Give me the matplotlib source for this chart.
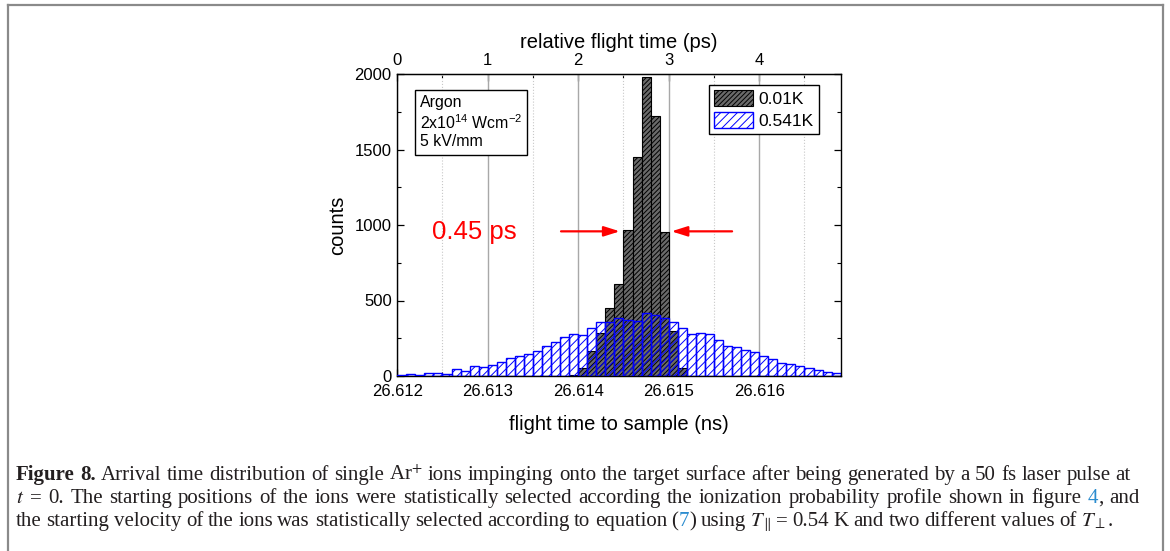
import numpy as np
import matplotlib
matplotlib.use('Agg')
import matplotlib.pyplot as plt
from matplotlib.lines import Line2D
from matplotlib.ticker import MultipleLocator, FormatStrFormatter

plt.rcParams['font.family'] = ['Liberation Sans', 'DejaVu Sans']
plt.rcParams['mathtext.fontset'] = 'custom'
plt.rcParams['mathtext.rm'] = 'Liberation Sans'
plt.rcParams['mathtext.it'] = 'Liberation Sans:italic'
plt.rcParams['mathtext.bf'] = 'Liberation Sans:bold'
plt.rcParams['hatch.linewidth'] = 0.7

# ---------------- data ----------------
bin_width_ns = 0.0001
bin_start_ns = np.round(26.6120 + bin_width_ns * np.arange(49), 4)

counts_001K = [0, 0, 0, 0, 0, 0, 0, 0, 0, 0,
               0, 0, 0, 0, 0, 0, 0, 0, 0, 5,
               51, 163, 287, 453, 607, 965, 1448, 1980, 1724, 951,
               295, 51, 0, 0, 0, 0, 0, 0, 0, 0,
               0, 0, 0, 0, 0, 0, 0, 0, 0]
counts_0541K = [4, 11, 5, 18, 20, 15, 44, 33, 68, 60,
                73, 93, 121, 130, 146, 166, 199, 227, 256, 278,
                272, 318, 356, 360, 386, 370, 363, 415, 404, 382,
                355, 321, 280, 282, 275, 236, 200, 191, 169, 161,
                130, 110, 84, 81, 65, 55, 43, 25, 22]
series_labels = ['0.01K', '0.541K']

x_ticks = [26.612, 26.613, 26.614, 26.615, 26.616]
top_ticks = [0, 1, 2, 3, 4]
y_ticks = [0, 500, 1000, 1500, 2000]

fwhm_arrow_left = (26.61381, 26.61446)
fwhm_arrow_right = (26.61570, 26.61503)
fwhm_level = 958

# ---------------- figure ----------------
W, H = 1170, 551
fig = plt.figure(figsize=(W / 100, H / 100), dpi=100)
ax = fig.add_axes([397.2 / W, 1 - 376 / H, 443.5 / W, 302 / H])

ax.bar(bin_start_ns, counts_001K, width=bin_width_ns, align='edge',
       facecolor='#6a6a6a', edgecolor='black', hatch='///////',
       linewidth=0.8, zorder=2, label=series_labels[0])
ax.bar(bin_start_ns, counts_0541K, width=bin_width_ns, align='edge',
       facecolor='none', edgecolor='#0000ff', hatch='////',
       linewidth=1.0, zorder=3, label=series_labels[1])

ax.set_xlim(26.612, 26.6169)
ax.set_ylim(0, 2000)
ax.set_xticks(x_ticks)
ax.xaxis.set_major_formatter(FormatStrFormatter('%.3f'))
ax.xaxis.set_minor_locator(MultipleLocator(0.0005))
ax.set_yticks(y_ticks)
ax.yaxis.set_minor_locator(MultipleLocator(250))
ax.tick_params(which='both', direction='in', right=True, top=False,
               labelsize=12)
ax.tick_params(axis='x', pad=6)
ax.tick_params(axis='y', pad=4)
ax.tick_params(which='major', length=5, width=0.9)
ax.tick_params(which='minor', length=3, width=0.8)

ax.set_axisbelow(True)
ax.grid(True, axis='x', which='major', color='#a8a8a8', lw=1.0, ls='-', zorder=0)
ax.grid(True, axis='x', which='minor', color='#c8c8c8', lw=0.8, ls=':', zorder=0)

for sp in ax.spines.values():
    sp.set_linewidth(1.0)

sec = ax.secondary_xaxis('top', functions=(lambda x: (x - 26.612) * 1000,
                                            lambda p: p / 1000 + 26.612))
sec.set_xticks(top_ticks)
sec.xaxis.set_minor_locator(MultipleLocator(0.5))
sec.tick_params(which='both', direction='in', labelsize=12, pad=4)
sec.tick_params(which='major', length=5, width=0.9)
sec.tick_params(which='minor', length=3, width=0.8)
sec.set_xlabel('relative flight time (ps)', fontsize=14.5, labelpad=4)

ax.set_xlabel('flight time to sample (ns)', fontsize=14.5, labelpad=11)
ax.set_ylabel('counts', fontsize=14.5)
ax.yaxis.set_label_coords(-0.112, 0.5)

# info box
ax.text(0.0514, 0.930, 'Argon\n2x10$^{14}$ Wcm$^{-2}$\n5 kV/mm',
        transform=ax.transAxes, ha='left', va='top', fontsize=11.4,
        linespacing=1.2, zorder=6,
        bbox=dict(boxstyle='square,pad=0.33', facecolor='white',
                  edgecolor='black', linewidth=1.0))

leg = ax.legend(loc='upper right', bbox_to_anchor=((819 - 397.2) / 443.5, (376 - 85) / 302),
                borderaxespad=0, fontsize=12.5, fancybox=False,
                edgecolor='black', framealpha=1, handlelength=2.25,
                handleheight=1.05, handletextpad=0.3, labelspacing=0.25,
                borderpad=0.3)
leg.get_frame().set_linewidth(1.0)
leg.set_zorder(7)

# FWHM annotation
arrow_kw = dict(arrowstyle='-|>,head_length=0.95,head_width=0.3',
                color='red', lw=1.6, mutation_scale=10,
                shrinkA=0, shrinkB=0)
ax.annotate('', xy=(fwhm_arrow_left[1], fwhm_level),
            xytext=(fwhm_arrow_left[0], fwhm_level), arrowprops=arrow_kw, zorder=8)
ax.annotate('', xy=(fwhm_arrow_right[1], fwhm_level),
            xytext=(fwhm_arrow_right[0], fwhm_level), arrowprops=arrow_kw, zorder=8)
ax.text(26.612385, 907, '0.45 ps', color='red', fontsize=18.5,
        ha='left', va='baseline', zorder=8)

# outer frame (left, top, right)
fc = '#8a8a8a'
fig.add_artist(Line2D([7.5 / W, 7.5 / W], [0, 1 - 5 / H], transform=fig.transFigure, color=fc, lw=1.6))
fig.add_artist(Line2D([7.5 / W, 1163 / W], [1 - 5 / H, 1 - 5 / H], transform=fig.transFigure, color=fc, lw=1.6))
fig.add_artist(Line2D([1163 / W, 1163 / W], [0, 1 - 5 / H], transform=fig.transFigure, color=fc, lw=1.6))

# ---------------- caption ----------------
cap_color = '#231f20'
link_color = '#2b8ccf'
caption_lines = [
    [("Figure 8.", 'bold', cap_color, False),
     ("Arrival time distribution of single Ar$^{+}$ ions impinging onto the target surface after being generated by a 50 fs laser pulse at", 'normal', cap_color, True)],
    [("$t$ = 0. The starting positions of the ions were statistically selected according the ionization probability profile shown in figure", 'normal', cap_color, False),
     ("4", 'normal', link_color, True),
     (", and", 'normal', cap_color, False)],
    [("the starting velocity of the ions was statistically selected according to equation (", 'normal', cap_color, False),
     ("7", 'normal', link_color, False),
     (") using $T_{\\parallel}$ = 0.54 K and two different values of $T_{\\perp}$.", 'normal', cap_color, False)],
]
baselines_px = [480, 503, 526]
line_ends_px = [1131, 1140, 1114]
x0_px = 16

renderer = fig.canvas.get_renderer()


def make_tokens(line):
    toks = []
    for s, wgt, col, space in line:
        words = s.split(' ')
        for i, wd in enumerate(words):
            if wd == '':
                continue
            sb = space if i == 0 else True
            toks.append((wd, wgt, col, sb))
    return toks


def measure(s, size, weight):
    t = fig.text(0, 0, s, fontsize=size, family='Liberation Serif',
                 weight=weight, math_fontfamily='stix')
    w = t.get_window_extent(renderer).width
    t.remove()
    return w


def natural_width(toks, size):
    sp = measure('n n', size, 'normal') - measure('nn', size, 'normal')
    return sum(measure(w, size, g) + (sp if sb else 0) for w, g, c, sb in toks)


token_lines = [make_tokens(l) for l in caption_lines]
size0 = 14.0
nat = [natural_width(t, size0) for t in token_lines]
cap_size = size0 * np.mean([(e - x0_px) / n for e, n in zip(line_ends_px, nat)])

for toks, ybase, xend in zip(token_lines, baselines_px, line_ends_px):
    widths = [measure(w, cap_size, g) for w, g, c, sb in toks]
    nsp = sum(1 for t in toks if t[3])
    gap = (xend - x0_px - sum(widths)) / max(nsp, 1)
    x = x0_px
    for (wd, wgt, col, sb), wdt in zip(toks, widths):
        if sb:
            x += gap
        fig.text(x / W, 1 - ybase / H, wd, fontsize=cap_size,
                 family='Liberation Serif', weight=wgt, color=col,
                 math_fontfamily='stix', ha='left', va='baseline')
        x += wdt

fig.savefig('out.png', dpi=100)
